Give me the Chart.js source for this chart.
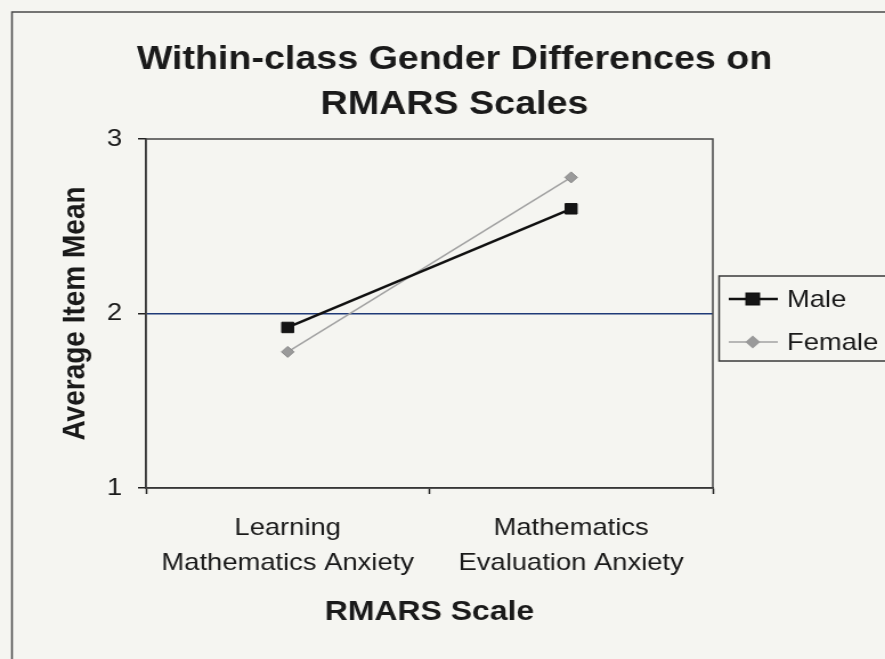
<!DOCTYPE html>
<html>
<head>
<meta charset="utf-8">
<script src="https://cdn.jsdelivr.net/npm/chart.js@4"></script>
<style>
  html, body { margin: 0; padding: 0; background: #f5f5f1; overflow: hidden; }
  /* the scanned chart is a bit wider than tall, so stretch the canvas sideways */
  #wrap { width: 776px; height: 659px; transform: scaleX(1.1405); transform-origin: 0 0; }
</style>
</head>
<body>
<div id="wrap"><canvas id="chart-canvas"></canvas></div>
<script>
const categories = [['Learning', 'Mathematics Anxiety'], ['Mathematics', 'Evaluation Anxiety']];
const maleValues = [1.92, 2.60];
const femaleValues = [1.78, 2.78];
const yTicks = [1, 2, 3];

const FONT = "'Liberation Sans', Arial, sans-serif";
const INK = '#1a1a1a';

const chart = document.querySelector('#chart-canvas');

// paper, outer frame and plot frame
const framePlugin = {
  id: 'frame',
  beforeDraw: (c) => {
    const ctx = c.ctx;
    ctx.save();
    ctx.fillStyle = '#f5f5f1';
    ctx.fillRect(0, 0, c.width, c.height);
    ctx.strokeStyle = '#4a4a4a';
    ctx.lineWidth = 1.5;
    ctx.beginPath();
    ctx.moveTo(10.5, c.height);
    ctx.lineTo(10.5, 12);
    ctx.lineTo(c.width, 12);
    ctx.stroke();
    ctx.restore();
  },
  beforeDatasetsDraw: (c) => {
    const ctx = c.ctx;
    const a = c.chartArea;
    ctx.save();
    ctx.strokeStyle = '#444';
    ctx.lineWidth = 1.5;
    ctx.strokeRect(a.left, a.top, a.right - a.left, a.bottom - a.top);
    ctx.restore();
  }
};

// Excel style legend box, placed like the original
const legendPlugin = {
  id: 'sideLegend',
  afterDraw: (c) => {
    const ctx = c.ctx;
    ctx.save();
    ctx.strokeStyle = '#3a3a3a';
    ctx.lineWidth = 1.5;
    ctx.strokeRect(630.5, 276, 160, 85);
    c.data.datasets.forEach((ds, i) => {
      const y = 299 + i * 43;
      ctx.strokeStyle = ds.borderColor;
      ctx.lineWidth = ds.borderWidth;
      ctx.beginPath();
      ctx.moveTo(639, y);
      ctx.lineTo(682, y);
      ctx.stroke();
      Chart.helpers.drawPoint(ctx, {
        pointStyle: ds.pointStyle,
        radius: ds.pointRadius,
        borderWidth: 1
      }, 660, y);
      ctx.fillStyle = ds.pointBackgroundColor;
      ctx.strokeStyle = ds.pointBorderColor;
      ctx.fill();
      ctx.fillStyle = INK;
      ctx.font = '24px ' + FONT;
      ctx.textBaseline = 'middle';
      ctx.fillText(ds.label, 690, y + 1);
    });
    ctx.restore();
  }
};

let chartObject = new Chart(chart, {
  type: 'line',
  data: {
    labels: categories,
    datasets: [{
      label: 'Male',
      data: maleValues,
      borderColor: '#111111',
      borderWidth: 2.5,
      pointStyle: 'rect',
      pointRadius: 7.4,
      pointBackgroundColor: '#151515',
      pointBorderColor: '#151515',
      pointBorderWidth: 1
    }, {
      label: 'Female',
      data: femaleValues,
      borderColor: '#a2a2a2',
      borderWidth: 1.5,
      pointStyle: 'rectRot',
      pointRadius: 5.5,
      pointBackgroundColor: '#9a9a9a',
      pointBorderColor: '#8a8a8a',
      pointBorderWidth: 1
    }]
  },
  plugins: [framePlugin, legendPlugin],
  options: {
    responsive: true,
    maintainAspectRatio: false,
    animation: false,
    layout: { padding: { left: 21, right: 0, top: 0, bottom: 0 } },
    plugins: {
      legend: { display: false },
      tooltip: { enabled: false },
      title: {
        display: true,
        text: ['Within-class Gender Differences on', 'RMARS Scales'],
        color: INK,
        font: { family: FONT, size: 33, weight: 'bold', lineHeight: 45 / 33 },
        padding: { top: 37.5, bottom: 11.5 }
      }
    },
    scales: {
      x: {
        offset: true,
        afterFit: (s) => { s.height = 171; },
        grid: {
          offset: true,
          drawOnChartArea: false,
          tickLength: 6,
          tickColor: '#222',
          tickWidth: 1.5
        },
        border: { color: '#111', width: 1.5 },
        ticks: {
          color: INK,
          padding: 16.5,
          maxRotation: 0,
          font: { family: FONT, size: 24, lineHeight: 35 / 24 }
        },
        title: {
          display: true,
          text: 'RMARS Scale',
          color: INK,
          font: { family: FONT, size: 28, weight: 'bold', lineHeight: 1.2 },
          padding: { top: 0, bottom: 30 }
        }
      },
      y: {
        min: 1,
        max: 3,
        afterFit: (s) => { s.width = 107; },
        afterBuildTicks: (s) => { s.ticks = yTicks.map(v => ({ value: v })); },
        grid: {
          color: (ctx) => ctx.tick && ctx.tick.value === 2 ? '#1f3a78' : 'rgba(0,0,0,0)',
          lineWidth: 1.5,
          tickLength: 7,
          tickColor: '#222',
          tickWidth: 1.5
        },
        border: { color: '#111', width: 1.5 },
        ticks: {
          color: INK,
          padding: 14,
          font: { family: FONT, size: 24 }
        },
        title: {
          display: true,
          text: 'Average Item Mean',
          color: INK,
          font: { family: FONT, size: 28, weight: 'bold', lineHeight: 1.2 },
          padding: { top: 28, bottom: 0 }
        }
      },
      // empty axis that keeps the space for the legend on the right
      y2: {
        position: 'right',
        display: true,
        afterFit: (s) => { s.width = 151; },
        grid: { display: false },
        border: { display: false },
        ticks: { display: false }
      }
    }
  }
});
</script>
</body>
</html>
